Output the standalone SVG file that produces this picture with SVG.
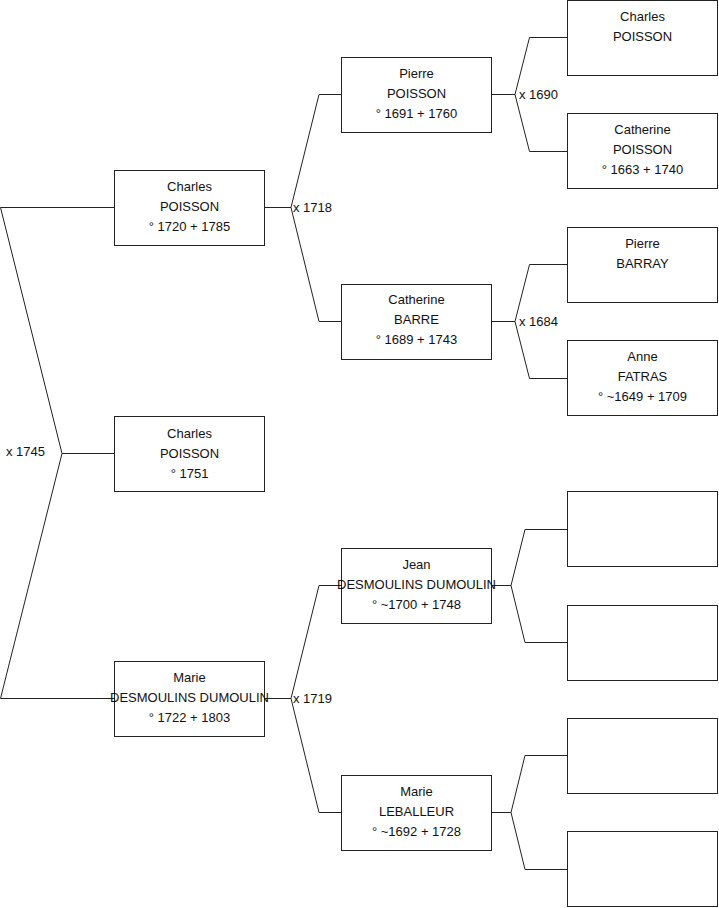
<svg xmlns="http://www.w3.org/2000/svg" width="719" height="908" viewBox="0 0 719 908">
<style>
.box{fill:#fff;stroke:#222;stroke-width:1}
.ln{fill:none;stroke:#222;stroke-width:1}
text{font-family:"Liberation Sans",Arial,sans-serif;font-size:13px;fill:#111}
.c{text-anchor:middle}
</style>
<rect width="719" height="908" fill="#fff"/>
<g id="connectors">
<polyline class="ln" points="114,207.5 0.5,207.5 62,453.5 114,453.5"/>
<polyline class="ln" points="62,453.5 0.5,698.5 114,698.5"/>
<polyline class="ln" points="265,207.5 291,207.5 319,94.5 341,94.5"/>
<polyline class="ln" points="291,207.5 319,321.5 341,321.5"/>
<polyline class="ln" points="265,698.5 291,698.5 319,585.5 341,585.5"/>
<polyline class="ln" points="291,698.5 319,812.5 341,812.5"/>
<polyline class="ln" points="492,94.5 515,94.5 529.5,37.5 567,37.5"/>
<polyline class="ln" points="515,94.5 529.5,151.5 567,151.5"/>
<polyline class="ln" points="492,321.5 515,321.5 529.5,264.5 567,264.5"/>
<polyline class="ln" points="515,321.5 529.5,378.5 567,378.5"/>
<polyline class="ln" points="492,585.5 511,585.5 525,529.5 567,529.5"/>
<polyline class="ln" points="511,585.5 525,642.5 567,642.5"/>
<polyline class="ln" points="492,812.5 511,812.5 525,755.5 567,755.5"/>
<polyline class="ln" points="511,812.5 525,869.5 567,869.5"/>
<text x="6" y="456">x 1745</text>
<text x="293" y="212">x 1718</text>
<text x="293" y="703">x 1719</text>
<text x="519" y="99">x 1690</text>
<text x="519" y="326">x 1684</text>
</g>
<g id="n-charles-1751">
<rect class="box" x="114.5" y="416.5" width="150" height="75"/>
<text class="c" x="189.5" y="438">Charles</text>
<text class="c" x="189.5" y="458">POISSON</text>
<text class="c" x="189.5" y="478">° 1751</text>
</g>
<g id="n-charles-1720">
<rect class="box" x="114.5" y="170.5" width="150" height="75"/>
<text class="c" x="189.5" y="191">Charles</text>
<text class="c" x="189.5" y="211">POISSON</text>
<text class="c" x="189.5" y="231">° 1720 + 1785</text>
</g>
<g id="n-marie-1722">
<rect class="box" x="114.5" y="661.5" width="150" height="75"/>
<text class="c" x="189.5" y="682">Marie</text>
<text class="c" x="189.5" y="702">DESMOULINS DUMOULIN</text>
<text class="c" x="189.5" y="722">° 1722 + 1803</text>
</g>
<g id="n-pierre-1691">
<rect class="box" x="341.5" y="57.5" width="150" height="75"/>
<text class="c" x="416.5" y="78">Pierre</text>
<text class="c" x="416.5" y="98">POISSON</text>
<text class="c" x="416.5" y="118">° 1691 + 1760</text>
</g>
<g id="n-catherine-1689">
<rect class="box" x="341.5" y="284.5" width="150" height="75"/>
<text class="c" x="416.5" y="304">Catherine</text>
<text class="c" x="416.5" y="324">BARRE</text>
<text class="c" x="416.5" y="344">° 1689 + 1743</text>
</g>
<g id="n-jean-1700">
<rect class="box" x="341.5" y="548.5" width="150" height="75"/>
<text class="c" x="416.5" y="569">Jean</text>
<text class="c" x="416.5" y="589">DESMOULINS DUMOULIN</text>
<text class="c" x="416.5" y="609">° ~1700 + 1748</text>
</g>
<g id="n-marie-1692">
<rect class="box" x="341.5" y="775.5" width="150" height="75"/>
<text class="c" x="416.5" y="796">Marie</text>
<text class="c" x="416.5" y="816">LEBALLEUR</text>
<text class="c" x="416.5" y="836">° ~1692 + 1728</text>
</g>
<g id="n-charles-poisson-g3">
<rect class="box" x="567.5" y="0.5" width="150" height="75"/>
<text class="c" x="642.5" y="21">Charles</text>
<text class="c" x="642.5" y="41">POISSON</text>
</g>
<g id="n-catherine-1663">
<rect class="box" x="567.5" y="113.5" width="150" height="75"/>
<text class="c" x="642.5" y="134">Catherine</text>
<text class="c" x="642.5" y="154">POISSON</text>
<text class="c" x="642.5" y="174">° 1663 + 1740</text>
</g>
<g id="n-pierre-barray">
<rect class="box" x="567.5" y="227.5" width="150" height="75"/>
<text class="c" x="642.5" y="248">Pierre</text>
<text class="c" x="642.5" y="268">BARRAY</text>
</g>
<g id="n-anne-1649">
<rect class="box" x="567.5" y="340.5" width="150" height="75"/>
<text class="c" x="642.5" y="361">Anne</text>
<text class="c" x="642.5" y="381">FATRAS</text>
<text class="c" x="642.5" y="401">° ~1649 + 1709</text>
</g>
<g id="n-empty-1"><rect class="box" x="567.5" y="491.5" width="150" height="75"/></g>
<g id="n-empty-2"><rect class="box" x="567.5" y="605.5" width="150" height="75"/></g>
<g id="n-empty-3"><rect class="box" x="567.5" y="718.5" width="150" height="75"/></g>
<g id="n-empty-4"><rect class="box" x="567.5" y="831.5" width="150" height="75"/></g>
</svg>
